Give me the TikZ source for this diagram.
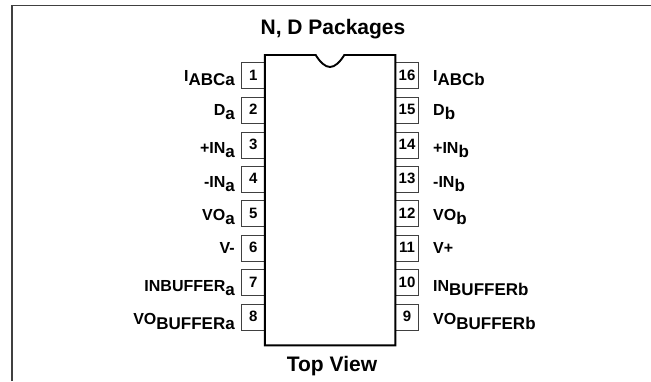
\documentclass[tikz,border=0pt]{standalone}
\usepackage{fontspec}
\setmainfont{Liberation Sans}[BoldFont={Liberation Sans Bold}]
\newcommand{\sm}[1]{{\fontsize{16}{18}\selectfont #1}}
\newcommand{\lo}[1]{\raisebox{-4.8pt}{\fontsize{17}{19}\selectfont #1}}
\definecolor{framec}{gray}{0.25}
\tikzset{
  pinbox/.style={draw=black!75,line width=0.7pt,minimum width=23.4pt,minimum height=26pt,inner sep=0pt,font=\bfseries\fontsize{15}{17}\selectfont},
  lab/.style={inner sep=0pt,font=\bfseries},
  leftlab/.style={lab,anchor=base east},
  rightlab/.style={lab,anchor=base west},
  titletext/.style={inner sep=0pt,font=\bfseries\fontsize{21}{23}\selectfont,anchor=base}
}
\begin{document}
\begin{tikzpicture}[x=1pt,y=-1pt]
\useasboundingbox (0,0) rectangle (651,381);
\draw[framec,line width=1.2pt] (12,381) -- (12,5.5) -- (651,5.5);
\node[titletext] (title) at (333,34) {N, D Packages};
\node[titletext] (bottom) at (332,371.5) {Top View};
\foreach \n/\y in {1/75.7,2/110.3,3/144.9,4/179.5,5/213.6,6/248.2,7/282.8,8/317.4}{
  \node[pinbox] (p\n) at (253.3,\y) {\raisebox{1.5pt}{\n}};
}
\foreach \n/\y in {16/75.7,15/110.3,14/144.9,13/179.5,12/213.6,11/248.2,10/282.8,9/317.4}{
  \node[pinbox] (p\n) at (407,\y) {\raisebox{1.5pt}{\n}};
}
\draw[black,line width=1.9pt,fill=white] (264.8,55) -- (315.7,55)
  .. controls (320,62) and (325,67) .. (330,67)
  .. controls (335,67) and (340,62) .. (344.3,55)
  -- (395.3,55) -- (395.3,345.3) -- (264.8,345.3) -- cycle;
\node[leftlab] (l1) at (235,81) {\sm{I}\lo{ABCa}};
\node[leftlab] (l2) at (235,115) {\sm{D}\lo{a}};
\node[leftlab] (l3) at (235,153) {\sm{+IN}\lo{a}};
\node[leftlab] (l4) at (235,187) {\sm{-IN}\lo{a}};
\node[leftlab] (l5) at (235,220) {\sm{VO}\lo{a}};
\node[leftlab] (l6) at (235,253.5) {\sm{V-}};
\node[leftlab] (l7) at (235,291) {\sm{INBUFFER}\lo{a}};
\node[leftlab] (l8) at (235,324.5) {\sm{VO}\lo{BUFFERa}};
\node[rightlab] (l16) at (433,81) {\sm{I}\lo{ABCb}};
\node[rightlab] (l15) at (433,115) {\sm{D}\lo{b}};
\node[rightlab] (l14) at (433,153) {\sm{+IN}\lo{b}};
\node[rightlab] (l13) at (433,187) {\sm{-IN}\lo{b}};
\node[rightlab] (l12) at (433,220) {\sm{VO}\lo{b}};
\node[rightlab] (l11) at (433,253.5) {\sm{V+}};
\node[rightlab] (l10) at (433,291) {\sm{IN}\lo{BUFFERb}};
\node[rightlab] (l9) at (433,324.5) {\sm{VO}\lo{BUFFERb}};
\end{tikzpicture}
\end{document}
